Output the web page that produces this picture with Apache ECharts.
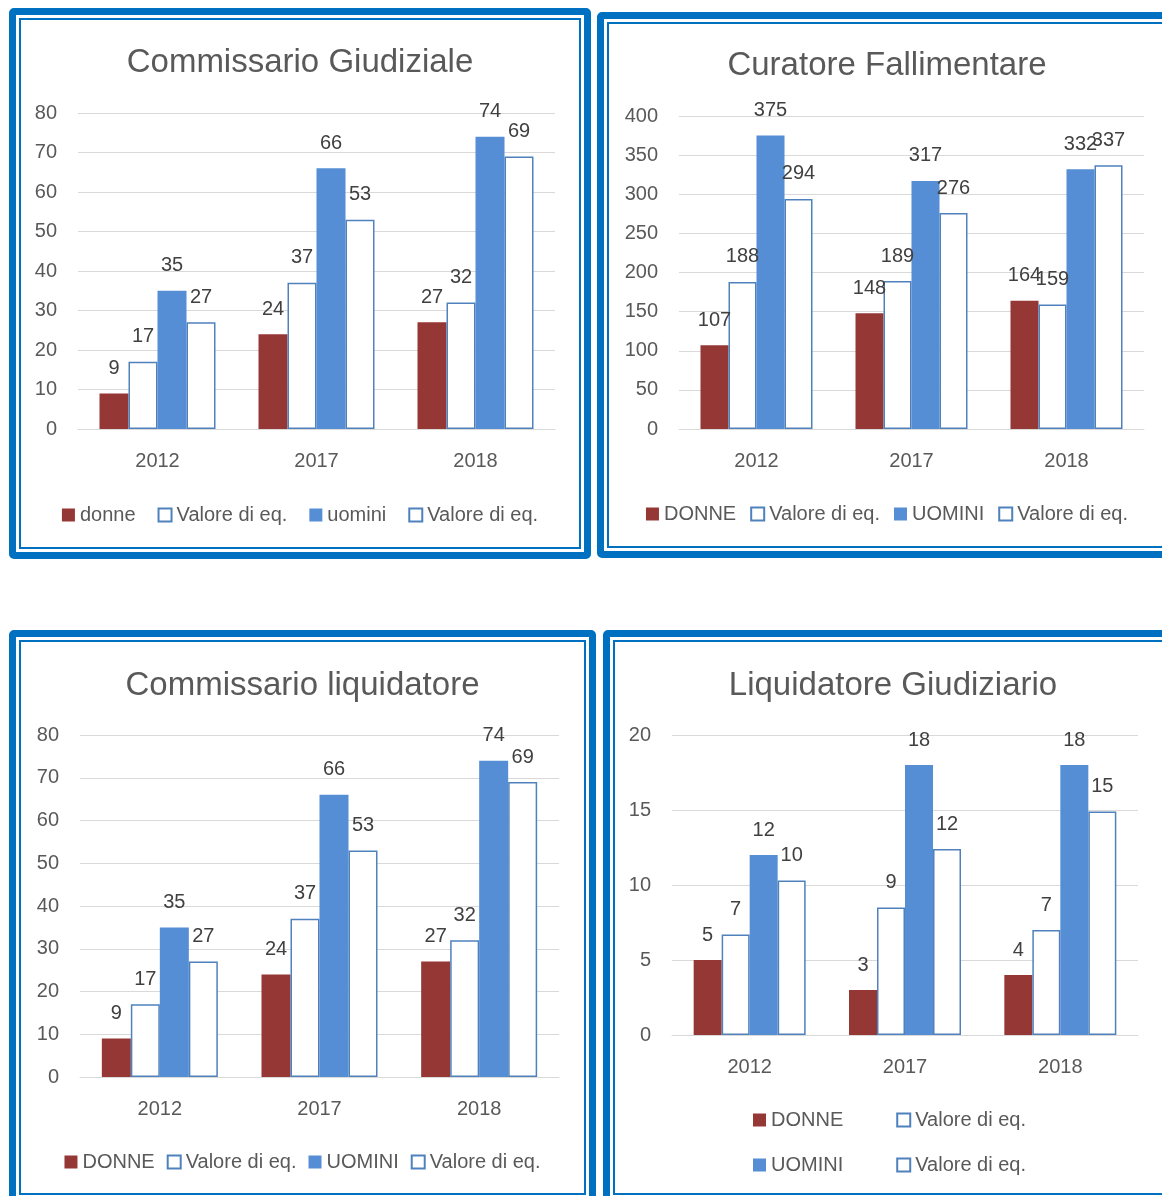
<!DOCTYPE html>
<html>
<head>
<meta charset="utf-8">
<script src="https://cdn.jsdelivr.net/npm/echarts@6/dist/echarts.min.js"></script>
<style>
	html, body { margin: 0; padding: 0; width: 1162px; height: 1196px; overflow: hidden; background: #fff; }
	.panel { position: absolute; box-sizing: border-box; border: 7px solid #0070C0; border-radius: 5px; padding: 3px; background: #fff; }
	.inner { box-sizing: border-box; width: 100%; height: 100%; border: 2px solid #0070C0; }
	.chart { position: absolute; }
</style>
</head>
<body>
<div class="panel" style="left:9px;top:8px;width:582px;height:551px"><div class="inner"></div></div>
<div class="panel" style="left:597px;top:12px;width:580px;height:546px"><div class="inner"></div></div>
<div class="panel" style="left:9px;top:630px;width:587px;height:575px"><div class="inner"></div></div>
<div class="panel" style="left:603px;top:630px;width:580px;height:575px"><div class="inner"></div></div>

<div class="chart" id="c1" style="left:9px;top:8px;width:582px;height:551px"></div>
<div class="chart" id="c2" style="left:597px;top:12px;width:580px;height:546px"></div>
<div class="chart" id="c3" style="left:9px;top:630px;width:587px;height:575px"></div>
<div class="chart" id="c4" style="left:603px;top:630px;width:580px;height:575px"></div>

<script>
var years = ['2012', '2017', '2018'];

// Commissario Giudiziale
var cgDonne = [9, 24, 27];
var cgEqDonne = [17, 37, 32];
var cgUomini = [35, 66, 74];
var cgEqUomini = [27, 53, 69];

// Curatore Fallimentare
var cfDonne = [107, 148, 164];
var cfEqDonne = [188, 189, 159];
var cfUomini = [375, 317, 332];
var cfEqUomini = [294, 276, 337];

// Commissario liquidatore
var clDonne = [9, 24, 27];
var clEqDonne = [17, 37, 32];
var clUomini = [35, 66, 74];
var clEqUomini = [27, 53, 69];

// Liquidatore Giudiziario
var lgDonne = [5, 3, 4];
var lgEqDonne = [6.7, 8.5, 7];
var lgUomini = [12, 18, 18];
var lgEqUomini = [10.3, 12.4, 14.9];

var RED = '#953735';
var BLUE = '#558ED5';
var EDGE = '#4F81BD';
var FONT = 'Liberation Sans';
var EQ_LABEL = 'Valore di eq.';

function barSeries(name, data, hollow, bw) {
	return {
		name: name,
		type: 'bar',
		data: data,
		barWidth: bw,
		barGap: '0%',
		itemStyle: hollow ? { color: '#fff', borderColor: EDGE, borderWidth: 1.5 } : { color: name.toLowerCase() == 'donne' ? RED : BLUE },
		label: {
			show: true,
			position: 'top',
			distance: 15,
			color: '#404040',
			fontFamily: FONT,
			fontSize: 20,
			formatter: function(p) { return Math.round(p.value); }
		}
	};
}

function legendBox(data, top, left, gap) {
	return {
		data: data,
		top: top,
		left: left,
		icon: 'rect',
		itemWidth: 13,
		itemHeight: 13,
		itemGap: gap,
		textStyle: { color: '#595959', fontFamily: FONT, fontSize: 20 },
		formatter: function(n) { return n.indexOf('eq') === 0 ? EQ_LABEL : n; }
	};
}

function makeChart(id, cfg) {
	var chart = echarts.init(document.getElementById(id));
	var dn = cfg.donneName, un = cfg.uominiName;
	var option = {
		animation: false,
		title: {
			text: cfg.title,
			left: 'center',
			top: cfg.titleTop,
			textStyle: { color: '#595959', fontFamily: FONT, fontWeight: 'normal', fontSize: 33 }
		},
		legend: cfg.legend,
		grid: cfg.grid,
		xAxis: {
			type: 'category',
			data: years,
			axisLine: { lineStyle: { color: '#D9D9D9' } },
			axisTick: { show: false },
			axisLabel: { color: '#595959', fontFamily: FONT, fontSize: 20, margin: 22 }
		},
		yAxis: {
			type: 'value',
			min: 0,
			max: cfg.max,
			interval: cfg.interval,
			axisLine: { show: false },
			axisTick: { show: false },
			splitLine: { lineStyle: { color: '#D9D9D9' } },
			axisLabel: { color: '#595959', fontFamily: FONT, fontSize: 20, margin: 21 }
		},
		series: [
			barSeries(dn, cfg.data[0], false, cfg.bw),
			barSeries('eqD', cfg.data[1], true, cfg.bw),
			barSeries(un, cfg.data[2], false, cfg.bw),
			barSeries('eqU', cfg.data[3], true, cfg.bw)
		]
	};
	chart.setOption(option);
	return chart;
}

makeChart('c1', {
	title: 'Commissario Giudiziale',
	titleTop: 33,
	donneName: 'donne',
	uominiName: 'uomini',
	max: 80, interval: 10, bw: 29,
	grid: { left: 69, right: 36, top: 105, bottom: 130 },
	legend: legendBox(['donne', 'eqD', 'uomini', 'eqU'], 492, 'center', 22),
	data: [cgDonne, cgEqDonne, cgUomini, cgEqUomini]
});

makeChart('c2', {
	title: 'Curatore Fallimentare',
	titleTop: 32,
	donneName: 'DONNE',
	uominiName: 'UOMINI',
	max: 400, interval: 50, bw: 28,
	grid: { left: 82, right: 33, top: 104, bottom: 129 },
	legend: legendBox(['DONNE', 'eqD', 'UOMINI', 'eqU'], 487, 'center', 14),
	data: [cfDonne, cfEqDonne, cfUomini, cfEqUomini]
});

makeChart('c3', {
	title: 'Commissario liquidatore',
	titleTop: 34,
	donneName: 'DONNE',
	uominiName: 'UOMINI',
	max: 80, interval: 10, bw: 29,
	grid: { left: 71, right: 37, top: 105, bottom: 128 },
	legend: legendBox(['DONNE', 'eqD', 'UOMINI', 'eqU'], 517, 'center', 12),
	data: [clDonne, clEqDonne, clUomini, clEqUomini]
});

makeChart('c4', {
	title: 'Liquidatore Giudiziario',
	titleTop: 34,
	donneName: 'DONNE',
	uominiName: 'UOMINI',
	max: 20, interval: 5, bw: 28,
	grid: { left: 69, right: 45, top: 105, bottom: 170 },
	legend: [
		legendBox(['DONNE', 'eqD'], 475, 145, 53),
		legendBox(['UOMINI', 'eqU'], 520, 145, 53)
	],
	data: [lgDonne, lgEqDonne, lgUomini, lgEqUomini]
});
</script>
</body>
</html>
